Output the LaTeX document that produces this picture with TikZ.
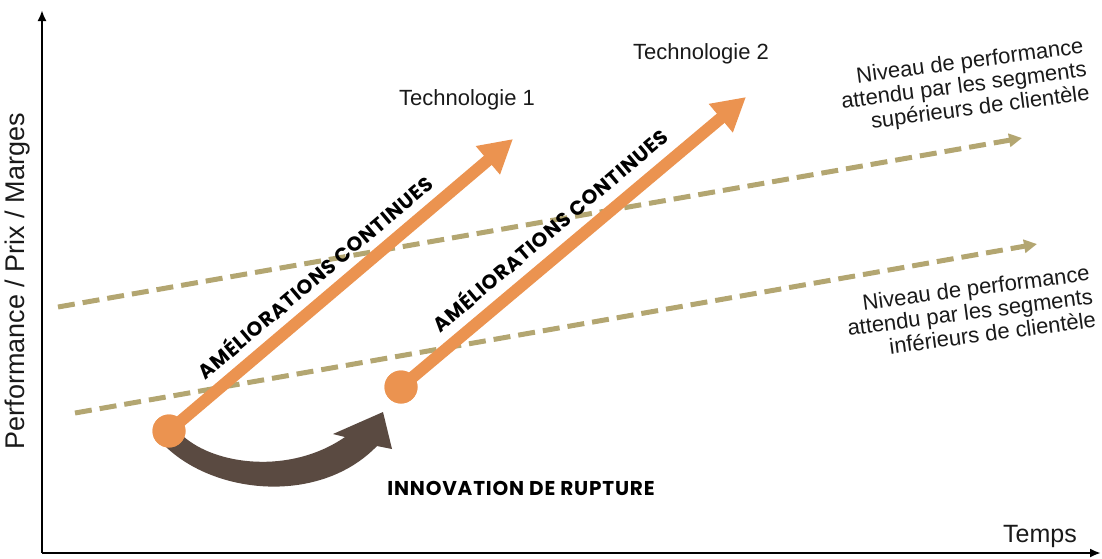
\documentclass[tikz,border=0pt]{standalone}
\usepackage{fontspec}
\setmainfont{Liberation Sans}
\newfontfamily\geofont{Poppins}[LetterSpace=4]
\usetikzlibrary{arrows.meta}
\definecolor{orangeT}{HTML}{EB9350}
\definecolor{brownR}{HTML}{5A4A41}
\definecolor{olive}{HTML}{B3A671}
\definecolor{ink}{HTML}{1A1A1A}
\begin{document}
\begin{tikzpicture}[x=1pt,y=-1pt,
  axis/.style={line width=2.4pt, -{Latex[length=11pt,width=9pt]}},
  level/.style={olive, line width=5pt, dash pattern=on 17pt off 8pt, -{Triangle[length=13pt,width=13pt]}},
  techarrow/.style={orangeT, line width=12pt, -{Triangle[length=33pt,width=35pt]}},
  dot/.style={circle, fill=orangeT, minimum size=33pt, inner sep=0pt},
  plain/.style={font=\fontsize{22}{24}\selectfont, text=ink, inner sep=0pt},
  levellabel/.style={plain, font=\fontsize{22}{23.5}\selectfont, align=right, rotate=7.5},
  boldlabel/.style={font=\geofont\bfseries\fontsize{20}{24}\selectfont, text=black, inner sep=0pt},
]
\useasboundingbox (0,0) rectangle (1102,558);

% axes
\coordinate (origin) at (42,553);
\coordinate (ytop) at (42,10);
\coordinate (xend) at (1101,553);
\draw[axis] (origin) -- (ytop);
\draw[axis] (origin) -- (xend);
\node[plain, font=\fontsize{27}{30}\selectfont, rotate=90] (ylab) at (18,281) {Performance / Prix / Marges};
\node[plain, font=\fontsize{25}{30}\selectfont] (xlab) at (1040,536) {Temps};

% expected performance levels of the customer segments
\coordinate (hiS) at (58,307);
\coordinate (hiE) at (1022,138);
\coordinate (loS) at (75,413);
\coordinate (loE) at (1037,244);
\draw[level] (hiS) -- (hiE);
\draw[level] (loS) -- (loE);
\node[levellabel] (hiLab) at (964,87) {Niveau de performance\\attendu par les segments\\supérieurs de clientèle};
\node[levellabel] (loLab) at (970,312) {Niveau de performance\\attendu par les segments\\inférieurs de clientèle};

% disruptive jump between the two technologies
\fill[brownR] (183,436) .. controls (215,465) and (290,475) .. (345,437)
  -- (333,434) -- (383,412) -- (392,449) -- (377,446)
  .. controls (320,505) and (215,495) .. (165,446) -- cycle;
\node[boldlabel] (rupt) at (521,488) {INNOVATION DE RUPTURE};

% technology trajectories
\node[dot] (d1) at (169,431) {};
\node[dot] (d2) at (401,387) {};
\coordinate (t1e) at (513,139);
\coordinate (t2e) at (746,97);
\draw[techarrow] (d1.center) -- (t1e);
\draw[techarrow] (d2.center) -- (t2e);
\node[dot] at (d1) {};
\node[dot] at (d2) {};
\node[boldlabel, rotate=40.3] (imp1) at (314,276) {AMÉLIORATIONS CONTINUES};
\node[boldlabel, rotate=40.3] (imp2) at (549,229) {AMÉLIORATIONS CONTINUES};
\node[plain] (tech1) at (467,100) {Technologie 1};
\node[plain] (tech2) at (701,54) {Technologie 2};
\end{tikzpicture}
\end{document}
